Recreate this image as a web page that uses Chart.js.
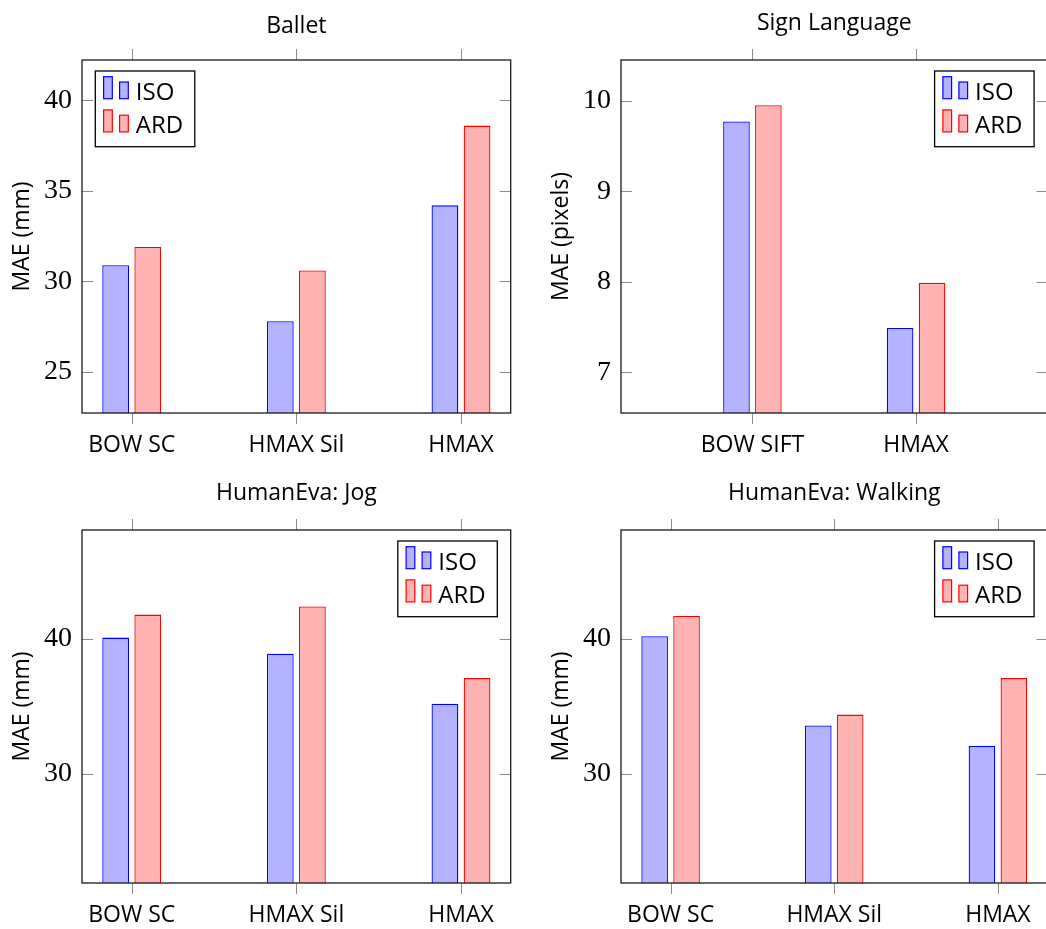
<!DOCTYPE html>
<html>
<head>
<meta charset="utf-8">
<script src="https://cdn.jsdelivr.net/npm/chart.js@4.4.1/dist/chart.umd.min.js"></script>
<style>
  html, body { margin: 0; padding: 0; background: #fff; }
  body { position: relative; width: 1046px; height: 929px; overflow: hidden; }
  .panel { position: absolute; width: 520px; height: 465px; }
</style>
</head>
<body>
<div class="panel" style="left:0;top:0"><canvas id="ballet" width="520" height="465"></canvas></div>
<div class="panel" style="left:539px;top:0"><canvas id="sign" width="520" height="465"></canvas></div>
<div class="panel" style="left:0;top:470px"><canvas id="jog" width="520" height="465"></canvas></div>
<div class="panel" style="left:539px;top:470px"><canvas id="walk" width="520" height="465"></canvas></div>
<script>
// --- data ---
const seriesNames = ['ISO', 'ARD'];

const balletCats = ['BOW SC', 'HMAX Sil', 'HMAX'];
const balletISO = [30.9, 27.8, 34.2];
const balletARD = [31.9, 30.6, 38.6];
const balletTicks = [25, 30, 35, 40];
const balletRange = [22.74, 42.22];

const signCats = ['BOW SIFT', 'HMAX'];
const signISO = [9.77, 7.49];
const signARD = [9.95, 7.99];
const signTicks = [7, 8, 9, 10];
const signRange = [6.55, 10.45];

const jogCats = ['BOW SC', 'HMAX Sil', 'HMAX'];
const jogISO = [40.1, 38.9, 35.2];
const jogARD = [41.8, 42.4, 37.1];
const jogTicks = [30, 40];
const jogRange = [21.94, 48.06];

const walkCats = ['BOW SC', 'HMAX Sil', 'HMAX'];
const walkISO = [40.2, 33.6, 32.1];
const walkARD = [41.7, 34.4, 37.1];
const walkTicks = [30, 40];
const walkRange = [21.94, 48.06];

const SANS = '"Open Sans", "Noto Sans", sans-serif';
const SERIF = '"Liberation Serif", "DejaVu Serif", serif';

Chart.defaults.font.family = SANS;
Chart.defaults.color = '#000';

// pgfplots-like frame: x ticks outside (top/bottom), y ticks inside (left/right)
const pgfFrame = {
  id: 'pgfFrame',
  afterDatasetsDraw(chart) {
    const { ctx, chartArea: a, scales: { x, y } } = chart;
    const tl = 11;
    ctx.save();
    ctx.strokeStyle = '#8c8c8c';
    ctx.lineWidth = 1;
    ctx.beginPath();
    x.ticks.forEach(t => {
      const px = Math.round(x.getPixelForValue(t.value)) + 0.5;
      ctx.moveTo(px, a.top - tl); ctx.lineTo(px, a.top);
      ctx.moveTo(px, a.bottom); ctx.lineTo(px, a.bottom + tl);
    });
    y.ticks.forEach(t => {
      const py = Math.round(y.getPixelForValue(t.value)) + 0.5;
      ctx.moveTo(a.left, py); ctx.lineTo(a.left + tl, py);
      ctx.moveTo(a.right - tl, py); ctx.lineTo(a.right, py);
    });
    ctx.stroke();
    ctx.strokeStyle = '#1a1a1a';
    ctx.lineWidth = 1.3;
    ctx.strokeRect(a.left, a.top, a.right - a.left, a.bottom - a.top);
    ctx.restore();
  }
};

// legend box inside the axes, with pgfplots' two-bar legend images
const pgfLegend = {
  id: 'pgfLegend',
  afterDraw(chart, args, opts) {
    const { ctx, chartArea: a } = chart;
    const w = 99.5, h = 75.7;
    const x0 = opts.corner === 'ne' ? a.right - 13.4 - w : a.left + 13.3;
    const y0 = a.top + 11;
    ctx.save();
    ctx.fillStyle = '#fff';
    ctx.fillRect(x0, y0, w, h);
    ctx.strokeStyle = '#000';
    ctx.lineWidth = 1.3;
    ctx.strokeRect(x0, y0, w, h);
    chart.data.datasets.forEach((ds, i) => {
      const base = y0 + 27.7 + i * 33.2;
      ctx.fillStyle = ds.backgroundColor;
      ctx.strokeStyle = ds.borderColor;
      ctx.lineWidth = 1.2;
      ctx.fillRect(x0 + 8.3, base - 22, 8.7, 22);
      ctx.strokeRect(x0 + 8.3, base - 22, 8.7, 22);
      ctx.fillRect(x0 + 24.3, base - 16.7, 8.7, 16.7);
      ctx.strokeRect(x0 + 24.3, base - 16.7, 8.7, 16.7);
      ctx.fillStyle = '#000';
      ctx.font = '24px ' + SANS;
      ctx.textBaseline = 'alphabetic';
      ctx.textAlign = 'left';
      ctx.fillText(ds.label, x0 + 40.5, base + 1.3);
    });
    ctx.restore();
  }
};

function makePanel(id, title, yTitle, cats, iso, ard, ticks, range, xPad, corner, titleTop, padRight) {
  const ctx = document.getElementById(id).getContext('2d');
  return new Chart(ctx, {
    type: 'bar',
    data: {
      datasets: [
        {
          label: seriesNames[0],
          data: iso.map((v, i) => ({ x: i, y: v })),
          backgroundColor: 'rgb(179,179,255)',
          borderColor: 'rgb(0,0,255)',
          borderWidth: 1.3,
        },
        {
          label: seriesNames[1],
          data: ard.map((v, i) => ({ x: i, y: v })),
          backgroundColor: 'rgb(255,179,179)',
          borderColor: 'rgb(255,0,0)',
          borderWidth: 1.3,
        },
      ],
    },
    options: {
      responsive: false,
      animation: false,
      events: [],
      categoryPercentage: 0.39,
      barPercentage: 0.834,
      layout: { padding: { left: 0, right: padRight, top: 0, bottom: 0 } },
      plugins: {
        legend: { display: false },
        tooltip: { enabled: false },
        title: {
          display: true,
          text: title,
          fullSize: false,
          font: { size: 23, weight: 'normal' },
          padding: { top: titleTop, bottom: 60 - titleTop - 23 * 1.2 },
        },
        pgfLegend: { corner },
      },
      scales: {
        x: {
          type: 'linear',
          offset: false,
          min: -xPad,
          max: cats.length - 1 + xPad,
          grid: { display: false, drawTicks: false },
          border: { display: false },
          afterBuildTicks: s => { s.ticks = cats.map((c, i) => ({ value: i })); },
          afterFit: s => { s.height = 52; },
          ticks: {
            autoSkip: false,
            maxRotation: 0,
            padding: 19,
            font: { size: 23 },
            callback: v => cats[v],
          },
        },
        y: {
          min: range[0],
          max: range[1],
          grid: { display: false, drawTicks: false },
          border: { display: false },
          afterBuildTicks: s => { s.ticks = ticks.map(v => ({ value: v })); },
          afterFit: s => { s.width = 82; },
          ticks: {
            padding: 10,
            font: { family: SERIF, size: 28 },
            callback: v => String(v),
          },
          title: {
            display: true,
            text: yTitle,
            font: { size: 23 },
            padding: { top: 9, bottom: 0 },
          },
        },
      },
    },
    plugins: [pgfFrame, pgfLegend],
  });
}

makePanel('ballet', 'Ballet', 'MAE (mm)', balletCats, balletISO, balletARD, balletTicks, balletRange, 0.302, 'nw', 12.5, 9.3);
makePanel('sign', 'Sign Language', 'MAE (pixels)', signCats, signISO, signARD, signTicks, signRange, 0.803, 'ne', 9.2, 11.5);
makePanel('jog', 'HumanEva: Jog', 'MAE (mm)', jogCats, jogISO, jogARD, jogTicks, jogRange, 0.302, 'ne', 9.2, 9.3);
makePanel('walk', 'HumanEva: Walking', 'MAE (mm)', walkCats, walkISO, walkARD, walkTicks, walkRange, 0.303, 'ne', 9.2, 11.5);
</script>
</body>
</html>
